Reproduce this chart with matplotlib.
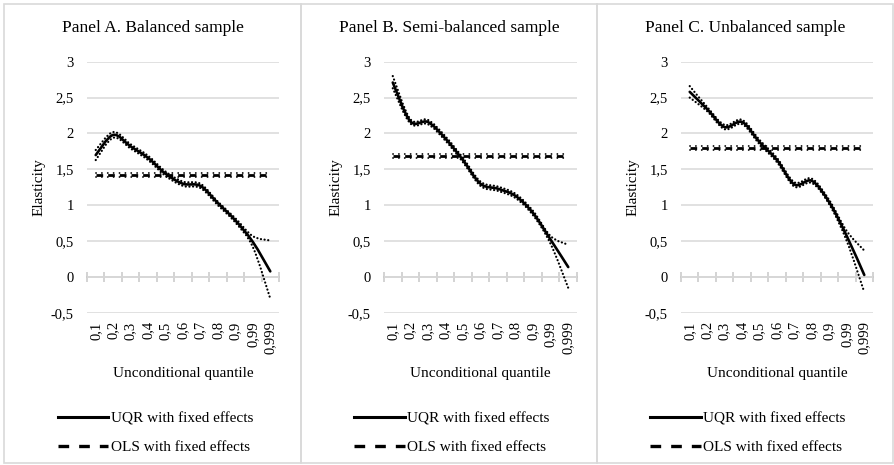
import numpy as np
import matplotlib
matplotlib.use("Agg")
import matplotlib.pyplot as plt
from matplotlib.path import Path
from matplotlib.patches import PathPatch, Rectangle
from matplotlib.lines import Line2D

plt.rcParams['font.family'] = ['Liberation Serif', 'DejaVu Serif']

# ---------------- data ----------------
quantiles = ["0,1", "0,2", "0,3", "0,4", "0,5", "0,6", "0,7", "0,8", "0,9", "0,99", "0,999"]
panel_titles = ["Panel A. Balanced sample", "Panel B. Semi-balanced sample", "Panel C. Unbalanced sample"]

uqr_a = [1.70, 1.98, 1.82, 1.66, 1.44, 1.30, 1.27, 1.03, 0.79, 0.49, 0.08]
uqr_a_hi = [1.77, 2.02, 1.85, 1.69, 1.47, 1.33, 1.30, 1.05, 0.82, 0.57, 0.51]
uqr_a_lo = [1.63, 1.94, 1.79, 1.63, 1.41, 1.27, 1.24, 1.00, 0.76, 0.42, -0.30]

uqr_b = [2.71, 2.17, 2.16, 1.93, 1.63, 1.30, 1.23, 1.13, 0.89, 0.52, 0.14]
uqr_b_hi = [2.80, 2.20, 2.19, 1.96, 1.66, 1.33, 1.26, 1.16, 0.92, 0.57, 0.45]
uqr_b_lo = [2.63, 2.14, 2.13, 1.90, 1.60, 1.27, 1.20, 1.10, 0.86, 0.46, -0.15]

uqr_c = [2.58, 2.34, 2.09, 2.16, 1.88, 1.63, 1.29, 1.34, 1.04, 0.57, 0.03]
uqr_c_hi = [2.66, 2.37, 2.12, 2.19, 1.91, 1.66, 1.32, 1.37, 1.07, 0.64, 0.37]
uqr_c_lo = [2.50, 2.31, 2.06, 2.13, 1.85, 1.60, 1.26, 1.31, 1.01, 0.50, -0.21]

ols = [1.42, 1.69, 1.80]
ols_hi = [1.445, 1.715, 1.825]
ols_lo = [1.395, 1.665, 1.775]

yticks = [-0.5, 0, 0.5, 1, 1.5, 2, 2.5, 3]
ytick_labels = ["-0,5", "0", "0,5", "1", "1,5", "2", "2,5", "3"]

panels = [
    (uqr_a, uqr_a_hi, uqr_a_lo),
    (uqr_b, uqr_b_hi, uqr_b_lo),
    (uqr_c, uqr_c_hi, uqr_c_lo),
]

# --------------- helpers ---------------
def smooth_path(x, y):
    """Excel-like smoothed line: Catmull-Rom cubic Bezier through the points."""
    x = np.asarray(x, float)
    y = np.asarray(y, float)
    P = np.column_stack([x, y])
    n = len(P)
    verts = [P[0]]
    codes = [Path.MOVETO]
    for i in range(n - 1):
        p0 = P[i - 1] if i > 0 else P[i]
        p1 = P[i]
        p2 = P[i + 1]
        p3 = P[i + 2] if i + 2 < n else P[i + 1]
        c1 = p1 + (p2 - p0) / 6.0
        c2 = p2 - (p3 - p1) / 6.0
        verts += [c1, c2, p2]
        codes += [Path.CURVE4] * 3
    return Path(verts, codes)


def add_curve(ax, x, y, **kw):
    patch = PathPatch(smooth_path(x, y), fill=False, **kw)
    ax.add_patch(patch)
    return patch

# --------------- figure ---------------
W, H = 894, 465
fig = plt.figure(figsize=(W / 100, H / 100), dpi=100)

frame_x = [(4, 301), (301, 597), (597, 893)]
axes_x = [(87, 279), (384, 577), (681, 873)]
ax_top, ax_bot = 61.7, 313.0

grid_col = '#d9d9d9'
x = np.arange(len(quantiles))

for k, (uqr, hi, lo) in enumerate(panels):
    fx0, fx1 = frame_x[k]
    fig.add_artist(Rectangle((fx0 / W, 1 - 463 / H), (fx1 - fx0) / W, (463 - 4) / H,
                             transform=fig.transFigure, fill=False,
                             edgecolor=grid_col, lw=1.2))
    x0, x1 = axes_x[k]
    ax = fig.add_axes([x0 / W, 1 - ax_bot / H, (x1 - x0) / W, (ax_bot - ax_top) / H])
    ax.set_xlim(-0.5, len(quantiles) - 0.5)
    ax.set_ylim(-0.5, 3)
    for s in ax.spines.values():
        s.set_visible(False)
    ax.set_yticks(yticks)
    ax.set_yticklabels(ytick_labels)
    ax.yaxis.grid(True, color=grid_col, lw=1.1)
    ax.set_axisbelow(True)
    ax.tick_params(axis='y', length=0, pad=9.5, labelsize=10.5)
    ax.set_xticks(x)
    ax.set_xticklabels(quantiles, rotation=90, fontsize=10.5)
    ax.tick_params(axis='x', length=0, pad=6)

    # horizontal axis crossing at zero with cross tick marks
    sec = ax.secondary_xaxis(0, transform=ax.transData)
    sec.set_xticks(np.arange(-0.5, len(quantiles), 1.0))
    sec.tick_params(axis='x', direction='inout', length=7, width=1.1,
                    color='#c8c8c8', labelbottom=False)
    sec.spines['bottom'].set_color('#c8c8c8')
    sec.spines['bottom'].set_linewidth(1.1)

    # confidence bands (dotted) and UQR line
    for band in (hi, lo):
        add_curve(ax, x, band, edgecolor='black', lw=1.6,
                  linestyle=(0, (0.05, 1.6)), capstyle='round', zorder=3)
    add_curve(ax, x, uqr, edgecolor='black', lw=1.9, zorder=4,
              joinstyle='round', capstyle='round')

    # OLS line with dotted bands
    n = len(quantiles)
    ax.plot(x, [ols_hi[k]] * n, color='black', lw=1.3,
            linestyle=(0, (0.05, 3.2)), dash_capstyle='round', zorder=3)
    ax.plot(x, [ols_lo[k]] * n, color='black', lw=1.3,
            linestyle=(0, (0.05, 3.2)), dash_capstyle='round', zorder=3)
    ax.plot(x, [ols[k]] * n, color='black', lw=2.0, linestyle=(0, (2.4, 1.8)),
            dash_capstyle='butt', zorder=4)

    ax.set_ylabel("Elasticity", fontsize=11, labelpad=4)
    ax.set_xlabel("Unconditional quantile", fontsize=11, labelpad=9)

    fig.text((fx0 + fx1) / 2 / W, 1 - 28 / H, panel_titles[k], ha='center',
             va='center', fontsize=12.5)

    handles = [Line2D([], [], color='black', lw=2.2),
               Line2D([], [], color='black', lw=2.4, linestyle=(0, (3.2, 3.0)))]
    fig.legend(handles, ["UQR with fixed effects", "OLS with fixed effects"],
               loc='center', bbox_to_anchor=((fx0 + fx1) / 2 / W + 3 / W, 1 - 433 / H),
               frameon=False, fontsize=11, handlelength=3.3, handletextpad=0.15,
               labelspacing=0.95, borderpad=0)

fig.savefig("out.png", dpi=100)
